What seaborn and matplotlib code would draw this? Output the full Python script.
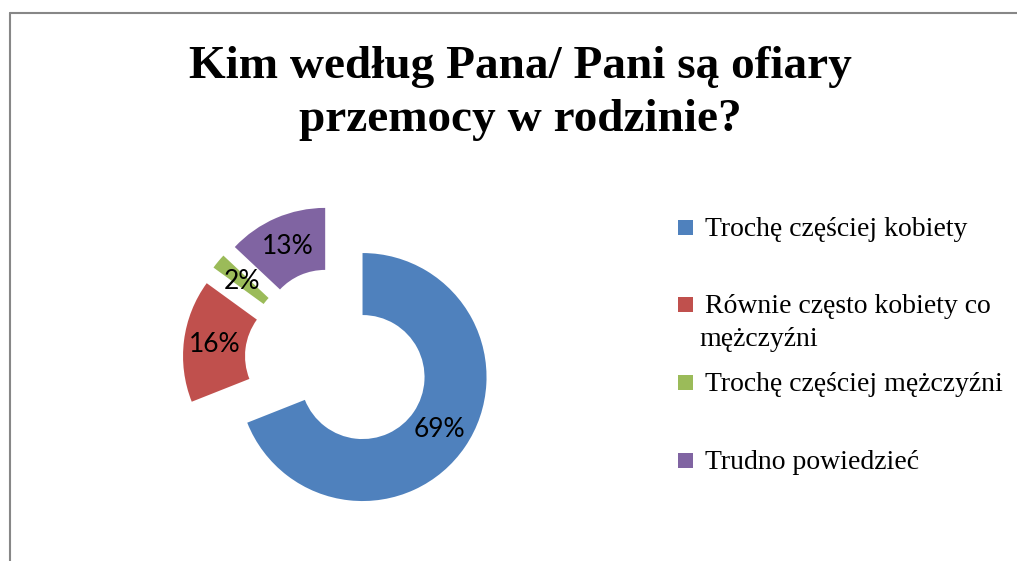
import matplotlib
matplotlib.use("Agg")
import matplotlib.pyplot as plt
from matplotlib.lines import Line2D
from matplotlib.patches import Rectangle
import seaborn as sns

categories = ["Trochę częściej kobiety", "Równie często kobiety co\nmężczyźni",
              "Trochę częściej mężczyźni", "Trudno powiedzieć"]
values = [69, 16, 2, 13]
colors = ["#4F81BD", "#C0504D", "#9BBB59", "#8064A2"]
title_lines = ["Kim według Pana/ Pani są ofiary", "przemocy w rodzinie?"]

sns.set_theme(style="white")
palette = sns.color_palette(colors)

W, H = 1017, 561
fig = plt.figure(figsize=(W / 100, H / 100), dpi=100)
fig.patch.set_facecolor("white")

# pie geometry in pixels
cx, cy, R = 337.3, 359.9, 124.0
ax = fig.add_axes([0, 0, 1, 1])
ax.axis("off")

wedges, texts, autotexts = ax.pie(
    values, colors=palette, startangle=90, counterclock=False,
    explode=[0.246] * len(values), radius=1.0,
    wedgeprops=dict(width=0.5, edgecolor="none", linewidth=0),
    autopct="%.0f%%", pctdistance=0.75,
    textprops=dict(fontsize=19, family=["Lato", "DejaVu Sans"], color="black"),
)
ax.set_xlim(-cx / R, (W - cx) / R)
ax.set_ylim((cy - H) / R, cy / R)
ax.set_aspect("auto")

# title
serif = ["Liberation Serif", "DejaVu Serif"]
for line, bl in zip(title_lines, [78, 131]):
    fig.text(520 / W, 1 - bl / H, line, ha="center", va="baseline", color="black",
             fontsize=34, fontweight="bold", family=serif)

# legend
baselines = [236, 313, 391, 469]
for lab, col, bl in zip(categories, palette, baselines):
    fig.patches.append(Rectangle((678 / W, 1 - (bl - 1) / H), 15 / W, 15 / H,
                                 transform=fig.transFigure, facecolor=col, edgecolor="none"))
    for i, line in enumerate(lab.split("\n")):
        x = 705 if i == 0 else 699
        fig.text(x / W, 1 - (bl + 33 * i) / H, line, ha="left", va="baseline",
                 fontsize=20, family=serif, color="black")

# frame lines
fig.lines.append(Line2D([10 / W, 1], [1 - 13 / H, 1 - 13 / H], transform=fig.transFigure,
                        color="#878787", linewidth=1.5))
fig.lines.append(Line2D([10 / W, 10 / W], [0, 1 - 13 / H], transform=fig.transFigure,
                        color="#878787", linewidth=1.5))

fig.savefig("out.png", dpi=100, facecolor="white")
